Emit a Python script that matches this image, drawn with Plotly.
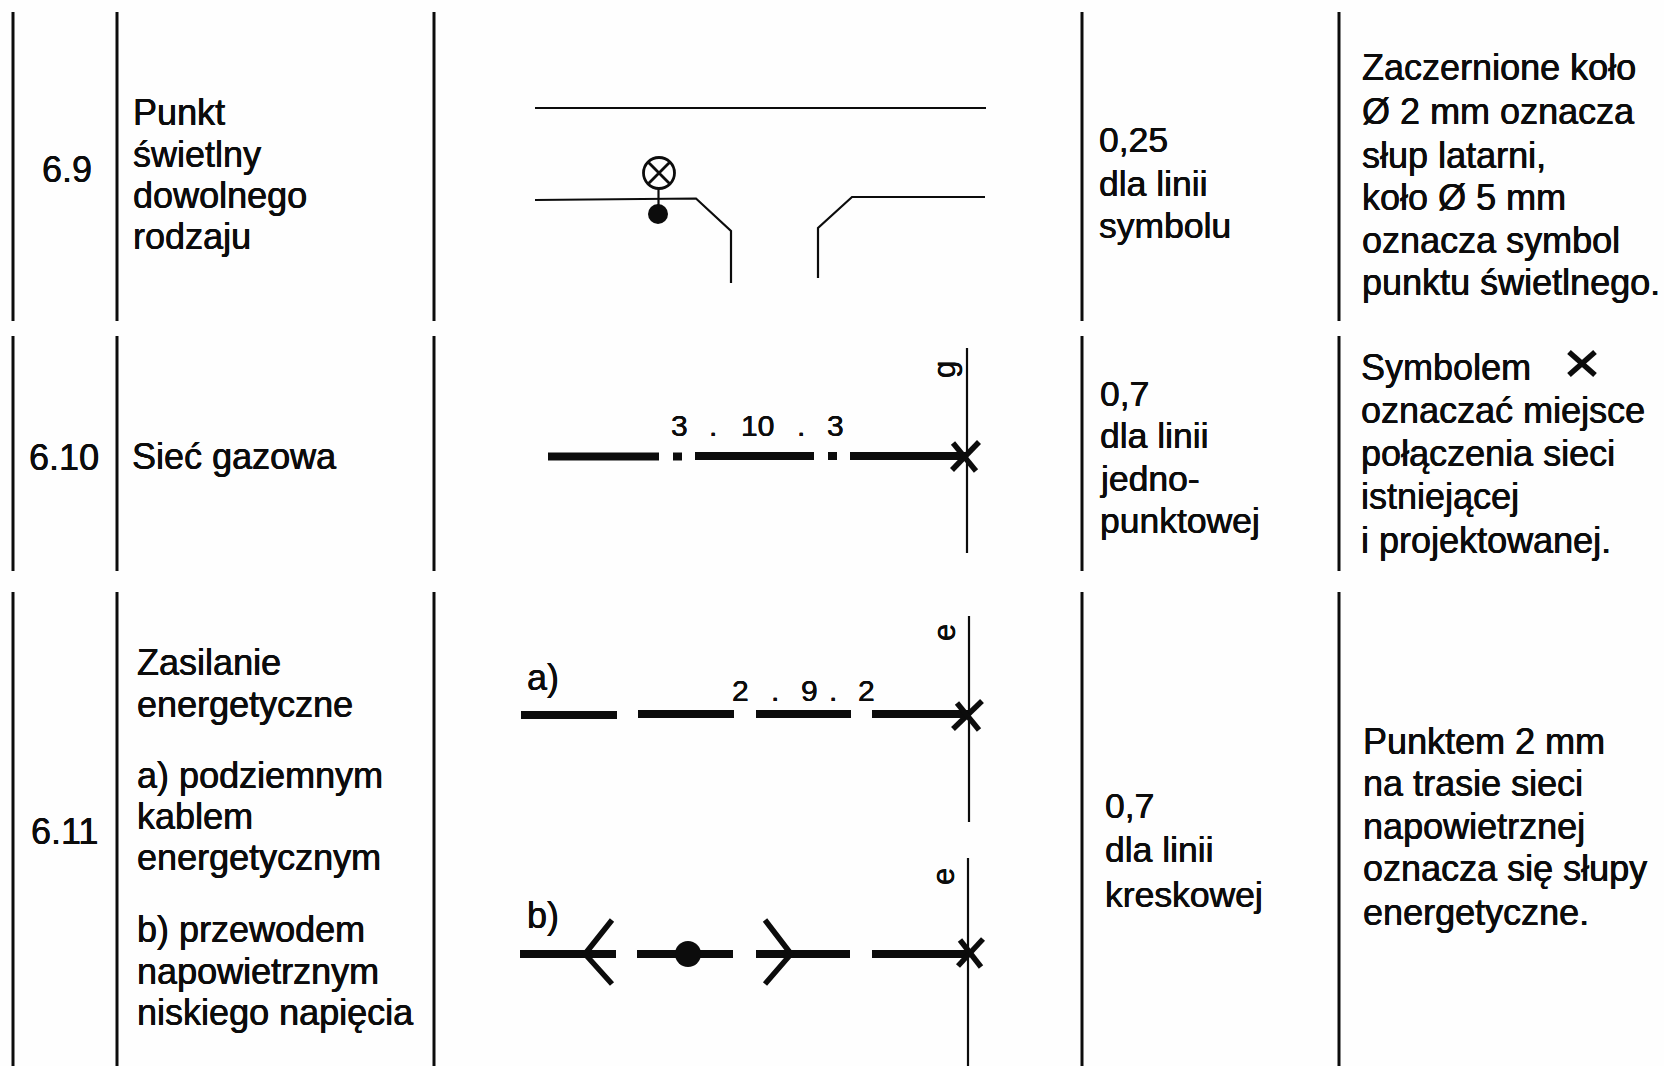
import plotly.graph_objects as go

FONT = "Liberation Sans"
INK = "#0c0c0c"

# Table rules: column x and row (top, bottom) spans
column_rules = [13, 117, 434, 1082, 1339]
row_spans = [(12, 321), (336, 571), (592, 1066)]

# Text cells: (x, y, text)
left_labels = [
    (131, 112, "Punkt"), (131, 154, "świetlny"), (131, 195, "dowolnego"), (131, 236, "rodzaju"),
    (130, 456, "Sieć gazowa"),
    (135, 662, "Zasilanie"), (135, 704, "energetyczne"),
    (135, 775, "a) podziemnym"), (135, 816, "kablem"), (135, 857, "energetycznym"),
    (135, 929, "b) przewodem"), (135, 971, "napowietrznym"), (135, 1012, "niskiego napięcia"),
]
number_labels = [(67, 169, "6.9"), (64, 457, "6.10"), (64, 831, "6.11")]
width_labels = [
    (1097, 140, "0,25"), (1097, 184, "dla linii"), (1097, 226, "symbolu"),
    (1098, 394, "0,7"), (1098, 436, "dla linii"), (1098, 479, "jedno-"), (1098, 521, "punktowej"),
    (1103, 806, "0,7"), (1103, 850, "dla linii"), (1103, 895, "kreskowej"),
]
note_labels = [
    (1360, 67, "Zaczernione koło"), (1360, 111, "Ø 2 mm oznacza"), (1360, 155, "słup latarni,"),
    (1360, 197, "koło Ø 5 mm"), (1360, 240, "oznacza symbol"), (1360, 282, "punktu świetlnego."),
    (1359, 367, "Symbolem"), (1359, 410, "oznaczać miejsce"), (1359, 453, "połączenia sieci"),
    (1359, 496, "istniejącej"), (1359, 540, "i projektowanej."),
    (1361, 741, "Punktem 2 mm"), (1361, 783, "na trasie sieci"), (1361, 826, "napowietrznej"),
    (1361, 868, "oznacza się słupy"), (1361, 912, "energetyczne."),
]
dimension_labels = [
    (679, 425, "3"), (713, 425, "."), (757, 425, "10"), (801, 425, "."), (835, 425, "3"),
    (740, 690, "2"), (775, 690, "."), (809, 690, "9"), (833, 690, "."), (866, 690, "2"),
]
part_labels = [(525, 677, "a)"), (525, 915, "b)")]
rotated_labels = [(944, 370, "g"), (944, 633, "e"), (943, 877, "e")]

# Thin drawing lines
thin_paths = [
    [(535, 108), (986, 108)],
    [(535, 200), (696, 198.5), (731, 231), (731, 283)],
    [(818, 278), (818, 228), (852, 197), (985, 197)],
    [(658.5, 189), (658.5, 205)],
    [(967, 348), (967, 553)],
    [(969, 616), (969, 822)],
    [(968, 858), (968, 1066)],
]
# Thick network dashes
thick_paths = [
    [(548, 456.5), (659, 456.5)], [(673, 456.5), (682, 456.5)], [(695, 456), (814, 456)],
    [(828, 456), (837, 456)], [(850, 456), (967, 456)],
    [(521, 715), (617, 715)], [(638, 714), (734, 714)], [(756, 714), (851, 714)], [(872, 714), (969, 714)],
    [(520, 954), (616, 954)], [(637, 954), (733, 954)], [(756, 954), (850, 954)], [(872, 954), (968, 954)],
]
# Crosses and fork arms
stroke_paths = [
    [(952, 470), (979, 442)], [(953, 443), (976, 471)],
    [(953, 729), (982, 701)], [(957, 703), (979, 730)],
    [(958, 966), (983, 939)], [(960, 940), (981, 967)],
    [(612, 920), (585, 954), (612, 984)],
    [(765, 920), (791, 954), (765, 984)],
    [(1569, 352), (1595, 375)], [(1595, 352), (1569, 375)],
]
# Filled dots and lamp symbol
dots_x, dots_y, dots_size = [658, 688], [214, 954], [20, 26]
lamp_x, lamp_y, lamp_size = [659], [173], [31]


def add_paths(fig, paths, width):
    for path in paths:
        fig.add_trace(go.Scatter(
            x=[p[0] for p in path], y=[p[1] for p in path], mode="lines",
            line=dict(color=INK, width=width),
            hoverinfo="skip", showlegend=False,
        ))


fig = go.Figure()
for x in column_rules:
    for top, bottom in row_spans:
        fig.add_trace(go.Scatter(x=[x, x], y=[top, bottom], mode="lines",
                                 line=dict(color=INK, width=3), hoverinfo="skip", showlegend=False))
add_paths(fig, thin_paths, 2.2)
add_paths(fig, thick_paths, 8)
add_paths(fig, stroke_paths, 5.5)
fig.add_trace(go.Scatter(x=dots_x, y=dots_y, mode="markers",
                         marker=dict(color=INK, size=dots_size, line_width=0, opacity=1),
                         hoverinfo="skip", showlegend=False))
fig.add_trace(go.Scatter(x=lamp_x, y=lamp_y, mode="markers",
                         marker=dict(symbol="circle-x-open", color=INK, size=lamp_size, opacity=1,
                                     line=dict(color=INK, width=2.8)),
                         hoverinfo="skip", showlegend=False))


def add_text(items, size, anchor="left", angle=0):
    for x, y, text in items:
        fig.add_annotation(x=x, y=y, xref="x", yref="y", text=text, showarrow=False,
                           xanchor=anchor, yanchor="middle", textangle=angle,
                           font=dict(family=FONT, size=size, color=INK,
                                     shadow=f"0.35px 0 0 {INK}, -0.35px 0 0 {INK}"))


add_text(left_labels, 36)
add_text(number_labels, 36, "center")
add_text(width_labels, 35.5)
add_text(note_labels, 36)
add_text(part_labels, 36)
add_text(dimension_labels, 30, "center")
add_text(rotated_labels, 31, "center", -90)

fig.update_layout(
    width=1664, height=1066, margin=dict(l=0, r=0, t=0, b=0),
    paper_bgcolor="#fefefe", plot_bgcolor="#fefefe", hovermode=False, showlegend=False,
    xaxis=dict(range=[0, 1664], visible=False, fixedrange=True),
    yaxis=dict(range=[1066, 0], visible=False, fixedrange=True),
)
fig.write_html("out.html", config={"displayModeBar": False},
               post_script="document.body.style.margin='0';document.body.style.overflow='hidden';")
